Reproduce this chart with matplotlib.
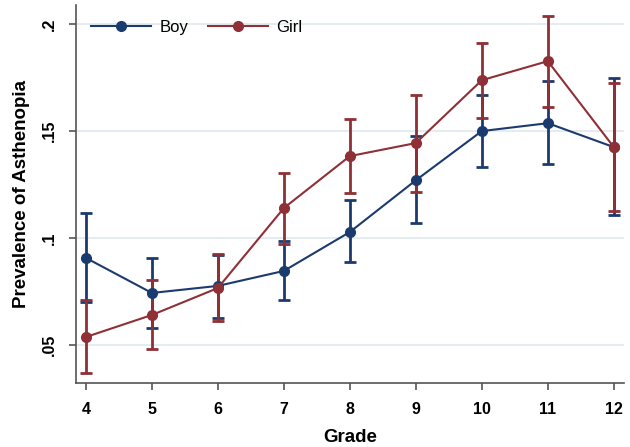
import numpy as np
import matplotlib as mpl
import matplotlib.pyplot as plt

grades = [4, 5, 6, 7, 8, 9, 10, 11, 12]

boy = [0.0907, 0.0743, 0.0776, 0.0846, 0.1028, 0.1270, 0.1500, 0.1537, 0.1425]
boy_lo = [0.0700, 0.0579, 0.0626, 0.0710, 0.0888, 0.1070, 0.1332, 0.1346, 0.1107]
boy_hi = [0.1117, 0.0907, 0.0920, 0.0986, 0.1178, 0.1477, 0.1668, 0.1734, 0.1748]

girl = [0.0537, 0.0640, 0.0766, 0.1140, 0.1383, 0.1444, 0.1738, 0.1827, 0.1425]
girl_lo = [0.0369, 0.0481, 0.0612, 0.0972, 0.1210, 0.1215, 0.1560, 0.1612, 0.1126]
girl_hi = [0.0710, 0.0804, 0.0925, 0.1304, 0.1556, 0.1668, 0.1911, 0.2040, 0.1724]

yticks = [0.05, 0.1, 0.15, 0.2]
ytick_labels = ['.05', '.1', '.15', '.2']

BOY_COLOR = '#1b3b6f'
GIRL_COLOR = '#8f2f36'

plt.rcParams['font.family'] = ['Liberation Sans', 'DejaVu Sans']

fig = plt.figure(figsize=(6.3, 4.47), dpi=100)
ax = fig.add_axes([0.1206, 0.1432, 0.8694, 0.8458])

for y, lo, hi, color, label in [(boy, boy_lo, boy_hi, BOY_COLOR, 'Boy'),
                                (girl, girl_lo, girl_hi, GIRL_COLOR, 'Girl')]:
    y = np.array(y)
    err = [y - np.array(lo), np.array(hi) - y]
    ax.errorbar(grades, y, yerr=err, fmt='none', ecolor=color,
                elinewidth=2, capsize=4, capthick=2, zorder=3)
    ax.plot(grades, y, color=color, lw=1.5, marker='o', markersize=7,
            label=label, zorder=4)

ax.set_xlim(3.85, 12.15)
ax.set_ylim(0.0322, 0.209)
ax.set_xticks(grades)
ax.set_yticks(yticks)
ax.set_yticklabels(ytick_labels, rotation=90, va='center')
for lbl in ax.get_xticklabels() + ax.get_yticklabels():
    lbl.set_fontweight('bold')
    lbl.set_fontsize(11.5)

ax.grid(axis='y', color='#dfe9ee', lw=1.2)
ax.set_axisbelow(True)
for s in ['top', 'right']:
    ax.spines[s].set_visible(False)
for s in ['left', 'bottom']:
    ax.spines[s].set_color('#555555')
    ax.spines[s].set_linewidth(1.2)
ax.tick_params(direction='out', length=5, width=1.2, color='#555555', pad=9)

ax.set_xlabel('Grade', fontsize=13.5, fontweight='bold', labelpad=8)
ax.set_ylabel('Prevalence of Asthenopia', fontsize=13.5, fontweight='bold', labelpad=8)

ax.legend(loc='upper left', bbox_to_anchor=(0.0, 1.0), ncol=2, frameon=False,
          fontsize=12, handlelength=3.6, columnspacing=1.2, handletextpad=0.5,
          borderaxespad=0.5)

plt.savefig('out.png', dpi=100)
